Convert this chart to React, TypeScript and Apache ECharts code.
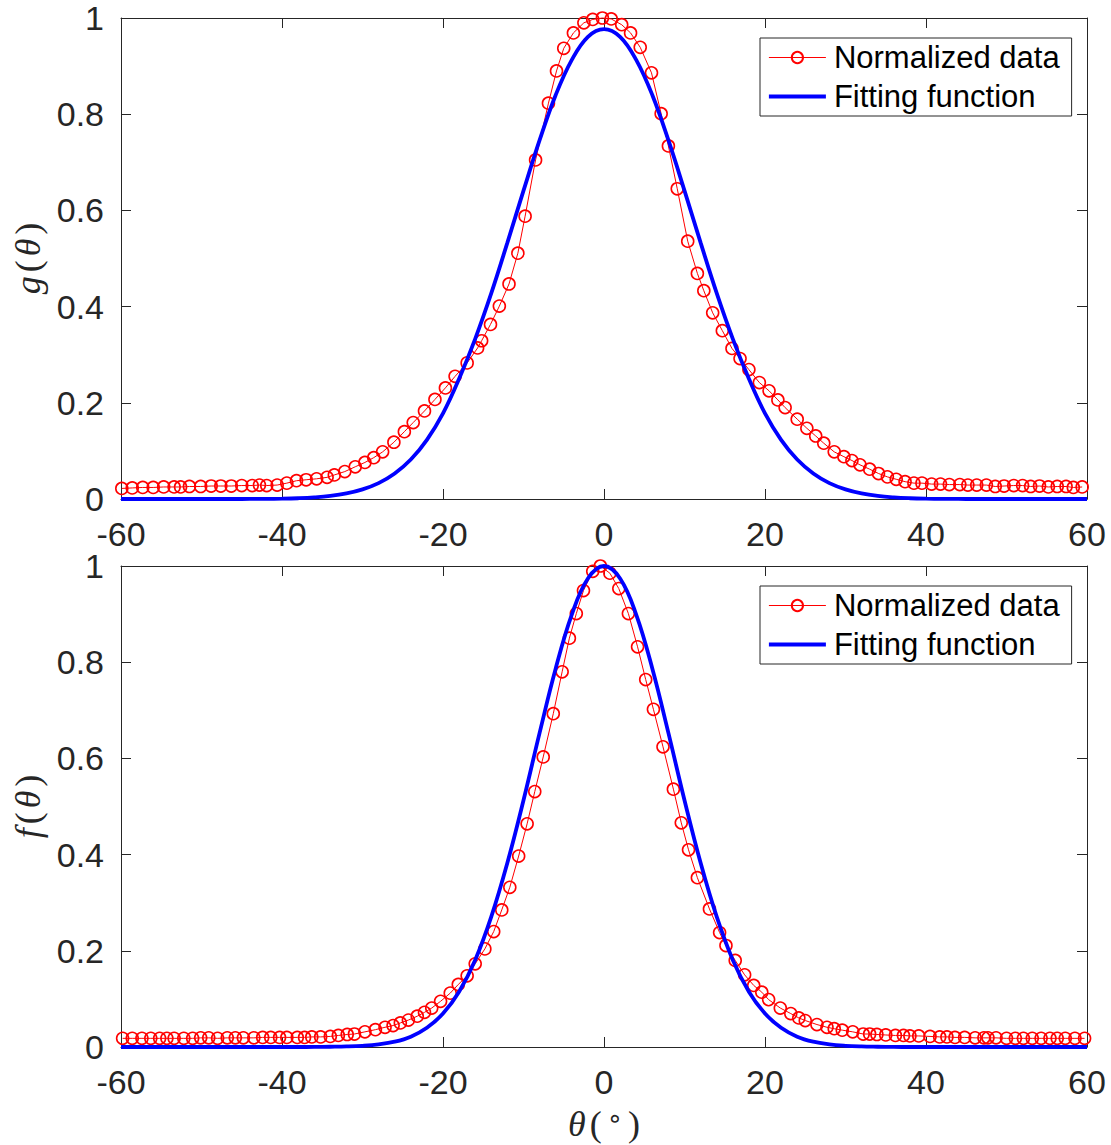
import { useEffect, useRef } from "react";
import * as echarts from "echarts";

// ---------- data ----------
const xTickValues = [-60, -40, -20, 0, 20, 40, 60];
const yTickValues = [0, 0.2, 0.4, 0.6, 0.8, 1];

const topDataX = [
  -59.9, -58.6, -57.3, -56.0, -54.7, -53.4, -52.6, -51.5, -50.1, -48.8, -47.6, -46.3, -45.0, -43.7, -42.8, -41.9,
  -40.6, -39.4, -38.2, -37.0, -35.7, -34.4, -33.5, -32.2, -30.9, -29.7, -28.6, -27.5, -26.1, -24.8, -23.7, -22.3,
  -21.0, -19.7, -18.5, -17.0, -15.7, -15.2, -14.1, -13.0, -11.8, -10.7, -9.8, -8.5, -6.9, -5.9, -5.0, -3.8, -2.5,
  -1.4, -0.2, 0.9, 2.2, 3.3, 4.5, 5.9, 7.1, 8.0, 9.1, 10.4, 11.6, 12.4, 13.5, 14.7, 15.9, 16.9, 18.0, 19.3, 20.5,
  21.6, 22.5, 24.0, 25.2, 26.3, 27.3, 28.6, 29.8, 30.8, 31.8, 33.0, 34.1, 35.2, 36.3, 37.4, 38.5, 39.5, 40.7, 41.8,
  42.9, 44.2, 45.2, 46.3, 47.5, 48.6, 49.7, 50.9, 52.0, 53.0, 54.1, 55.2, 56.3, 57.4, 58.3, 59.4,
];
const topDataY = [
  0.022, 0.023, 0.024, 0.024, 0.025, 0.025, 0.025, 0.026, 0.026, 0.027, 0.027, 0.027, 0.028, 0.028, 0.029, 0.028,
  0.029, 0.033, 0.038, 0.040, 0.042, 0.045, 0.050, 0.057, 0.067, 0.076, 0.086, 0.098, 0.118, 0.140, 0.159, 0.183,
  0.207, 0.231, 0.255, 0.283, 0.314, 0.329, 0.363, 0.401, 0.447, 0.511, 0.588, 0.705, 0.823, 0.890, 0.937, 0.969, 0.990,
  0.997, 1.0, 0.998, 0.986, 0.969, 0.939, 0.886, 0.801, 0.734, 0.645, 0.536, 0.469, 0.433, 0.387, 0.350, 0.313, 0.292, 0.269, 0.242, 0.225,
  0.206, 0.190, 0.166, 0.147, 0.131, 0.116, 0.098, 0.088, 0.080, 0.071, 0.062, 0.053, 0.046, 0.041, 0.036, 0.033, 0.033, 0.031, 0.031,
  0.030, 0.030, 0.029, 0.029, 0.029, 0.026, 0.027, 0.028, 0.028, 0.026, 0.027, 0.025, 0.026, 0.026, 0.024, 0.025,
];

const fitX = [
  -60, -58, -56, -54, -52, -50, -48, -46, -44, -42, -40, -38, -36, -34, -32, -30, -28, -26, -24, -22, -20, -18, -16, -14,
  -12, -10, -8, -6, -4, -2, 0, 2, 4, 6, 8, 10, 12, 14, 16, 18, 20, 22, 24, 26, 28, 30, 32, 34, 36, 38, 40, 42, 44, 46,
  48, 50, 52, 54, 56, 58, 60,
];
const topFitY = [
  0, 0, 0, 0, 0, 0, 0, 0, 0.0001, 0.0003, 0.0007, 0.0016, 0.0033, 0.0063, 0.0115, 0.02, 0.033, 0.053, 0.082, 0.123, 0.178, 0.25,
  0.333, 0.428, 0.533, 0.641, 0.746, 0.84, 0.913, 0.961, 0.977, 0.961, 0.913, 0.84, 0.746, 0.641, 0.533, 0.428, 0.333,
  0.25, 0.178, 0.123, 0.082, 0.053, 0.033, 0.02, 0.0115, 0.0063, 0.0033, 0.0016, 0.0007, 0.0003, 0.0001, 0, 0, 0, 0, 0, 0, 0, 0,
];

const bottomDataX = [
  -59.8, -58.6, -57.4, -56.3, -55.2, -54.3, -53.4, -52.2, -51.1, -50.1, -49.1, -48.0, -46.8, -45.8, -44.8, -43.5, -42.4,
  -41.4, -40.3, -39.4, -38.1, -37.2, -36.3, -35.2, -34.0, -33.0, -31.9, -31.0, -29.7, -28.4, -27.2, -26.2, -25.3, -24.3,
  -23.2, -22.3, -21.4, -20.3, -19.1, -18.1, -17.0, -16.0, -14.8, -13.7, -12.7, -11.7, -10.6, -9.55, -8.6, -7.55, -6.3,
  -5.2, -4.3, -3.44, -2.55, -1.4, -0.45, 0.73, 1.84, 3.03, 4.17, 5.18, 6.14, 7.33, 8.62, 9.6, 10.5, 11.6, 13.1, 14.36,
  15.15, 16.3, 17.47, 18.6, 19.6, 20.45, 21.9, 23.2, 24.2, 25.0, 26.45, 27.7, 28.6, 29.6, 30.9, 32.2, 33.0, 33.9, 35.0,
  36.2, 37.2, 38.0, 39.1, 40.5, 41.7, 42.6, 43.6, 44.8, 46.1, 47.2, 47.7, 48.7, 50.0, 51.1, 52.1, 53.2, 54.3, 55.4, 56.3,
  57.3, 58.5, 59.7,
];
const bottomDataY = [
  0.018, 0.018, 0.018, 0.018, 0.018, 0.018, 0.018, 0.018, 0.018, 0.019, 0.019, 0.018, 0.019, 0.019, 0.019, 0.019, 0.02,
  0.02, 0.02, 0.02, 0.02, 0.02, 0.021, 0.021, 0.022, 0.024, 0.026, 0.027, 0.0315, 0.036, 0.041, 0.0446, 0.05, 0.056,
  0.064, 0.072, 0.081, 0.095, 0.112, 0.13, 0.148, 0.173, 0.204, 0.24, 0.285, 0.332, 0.397, 0.464, 0.531, 0.603, 0.693,
  0.78, 0.85, 0.901, 0.949, 0.989, 1.0, 0.985, 0.953, 0.901, 0.832, 0.764, 0.702, 0.624, 0.536, 0.466, 0.41, 0.352, 0.287, 0.238,
  0.211, 0.18, 0.15, 0.128, 0.114, 0.0985, 0.081, 0.0695, 0.0605, 0.055, 0.0467, 0.041, 0.038, 0.035, 0.0315, 0.027, 0.027, 0.026, 0.025,
  0.024, 0.024, 0.023, 0.023, 0.022, 0.021, 0.021, 0.02, 0.02, 0.019, 0.019, 0.019, 0.019, 0.018, 0.018, 0.018, 0.018, 0.018, 0.018, 0.018,
  0.018, 0.018, 0.018,
];
const bottomFitY = [
  0, 0, 0, 0, 0, 0, 0, 0, 0, 0, 0, 0, 0.0001, 0.0005, 0.0011, 0.0025, 0.0054, 0.011, 0.0215, 0.04, 0.0695, 0.115, 0.181,
  0.271, 0.383, 0.513, 0.653, 0.787, 0.899, 0.974, 1.0, 0.974, 0.899, 0.787, 0.653, 0.513, 0.383, 0.271, 0.181, 0.115,
  0.0695, 0.04, 0.0215, 0.011, 0.0054, 0.0025, 0.0011, 0.0005, 0.0001, 0, 0, 0, 0, 0, 0, 0, 0, 0, 0, 0, 0,
];

const seriesNames = ["Normalized data", "Fitting function"];

// ---------- styling ----------
const AXIS_COLOR = "#262626";
const TICK_FONT = 34;
const LEGEND_FONT = 31;
const LABEL_FONT = 36;
const GRID_LEFT = 121;
const GRID_RIGHT = 24;
const GRID_HEIGHT = 481;
const GRID_TOPS = [18, 566];

const pair = (xs: number[], ys: number[]) => xs.map((x, i) => [x, ys[i]]);

const richName = {
  i: { fontFamily: "Liberation Serif", fontStyle: "italic", fontSize: LABEL_FONT, color: AXIS_COLOR, padding: [0, 2] },
  n: { fontFamily: "Liberation Serif", fontSize: LABEL_FONT, color: AXIS_COLOR, padding: [0, 2] },
  s: { fontFamily: "DejaVu Sans", fontSize: 26, color: AXIS_COLOR, padding: [0, 3, 12, 3] },
};

function buildOption() {
  const grids = GRID_TOPS.map((top) => ({ left: GRID_LEFT, right: GRID_RIGHT, top, height: GRID_HEIGHT }));
  const xAxes: any[] = [];
  const yAxes: any[] = [];
  GRID_TOPS.forEach((_, g) => {
    const common = {
      type: "value",
      gridIndex: g,
      min: -60,
      max: 60,
      interval: 20,
      axisLine: { show: true, onZero: false, lineStyle: { color: AXIS_COLOR, width: 1 } },
      axisTick: { show: true, inside: true, length: 10, lineStyle: { color: AXIS_COLOR, width: 1 } },
      splitLine: { show: false },
    };
    xAxes.push({
      ...common,
      position: "bottom",
      axisLabel: {
        show: true,
        margin: 18,
        fontSize: TICK_FONT,
        fontFamily: "Liberation Sans",
        color: AXIS_COLOR,
        customValues: xTickValues,
      },
      name: g === 1 ? "{i|θ}{n|(}{s|∘}{n|)}" : "",
      nameLocation: "middle",
      nameGap: 58,
      nameTextStyle: { rich: richName },
    });
    xAxes.push({ ...common, position: "top", axisLabel: { show: false } });
    const ycommon = {
      type: "value",
      gridIndex: g,
      min: 0,
      max: 1,
      interval: 0.2,
      axisLine: { show: true, onZero: false, lineStyle: { color: AXIS_COLOR, width: 1 } },
      axisTick: { show: true, inside: true, length: 10, lineStyle: { color: AXIS_COLOR, width: 1 } },
      splitLine: { show: false },
    };
    yAxes.push({
      ...ycommon,
      position: "left",
      axisLabel: {
        show: true,
        margin: 17,
        fontSize: TICK_FONT,
        fontFamily: "Liberation Sans",
        color: AXIS_COLOR,
        customValues: yTickValues,
        formatter: (v: number) => String(Math.round(v * 10) / 10),
      },
      name: g === 0 ? "{i|g}{n|(}{i|θ}{n|)}" : "{i|f}{n|(}{i|θ}{n|)}",
      nameLocation: "middle",
      nameRotate: 90,
      nameGap: 68,
      nameTextStyle: { rich: richName },
    });
    yAxes.push({ ...ycommon, position: "right", axisLabel: { show: false } });
  });

  const series: any[] = [];
  const datasets = [
    { data: topDataX, dataY: topDataY, fit: topFitY },
    { data: bottomDataX, dataY: bottomDataY, fit: bottomFitY },
  ];
  datasets.forEach((d, g) => {
    series.push({
      name: seriesNames[0],
      type: "line",
      xAxisIndex: g * 2,
      yAxisIndex: g * 2,
      data: pair(d.data, d.dataY),
      symbol: "circle",
      symbolSize: 12,
      showSymbol: true,
      clip: false,
      z: 3,
      lineStyle: { color: "#ff0000", width: 1 },
      itemStyle: { color: "rgba(255,255,255,0)", borderColor: "#ff0000", borderWidth: 1.6 },
      emphasis: { disabled: true },
    });
    series.push({
      name: seriesNames[1],
      type: "line",
      xAxisIndex: g * 2,
      yAxisIndex: g * 2,
      data: pair(fitX, d.fit),
      smooth: 0.4,
      symbol: "none",
      clip: false,
      z: 4,
      lineStyle: { color: "#0000ff", width: 3.8 },
      itemStyle: { color: "#0000ff" },
      emphasis: { disabled: true },
    });
  });

  const legends = GRID_TOPS.map((top) => ({
    show: true,
    orient: "vertical",
    left: 760,
    top: top + 20,
    padding: [1, 12, 1, 7],
    itemGap: 2,
    itemWidth: 57,
    itemHeight: 14,
    backgroundColor: "#ffffff",
    borderColor: AXIS_COLOR,
    borderWidth: 1,
    borderRadius: 0,
    selectedMode: false,
    lineStyle: { width: "inherit" },
    data: [
      { name: seriesNames[0] },
      { name: seriesNames[1], itemStyle: { opacity: 0, borderWidth: 0 } },
    ],
    textStyle: { fontSize: LEGEND_FONT, fontFamily: "Liberation Sans", color: "#000000", lineHeight: 37, padding: [0, 0, 0, 3] },
  }));

  return {
    animation: false,
    backgroundColor: "#ffffff",
    grid: grids,
    xAxis: xAxes,
    yAxis: yAxes,
    legend: legends,
    series,
  };
}

export default function App() {
  const ref = useRef<HTMLDivElement>(null);
  useEffect(() => {
    if (!ref.current) return;
    const chart = echarts.init(ref.current, null, { renderer: "svg" });
    chart.setOption(buildOption() as any);
    return () => chart.dispose();
  }, []);
  return (
    <div
      ref={ref}
      style={{ position: "absolute", left: 0, top: 0, width: 1111, height: 1145, background: "#ffffff" }}
    />
  );
}
